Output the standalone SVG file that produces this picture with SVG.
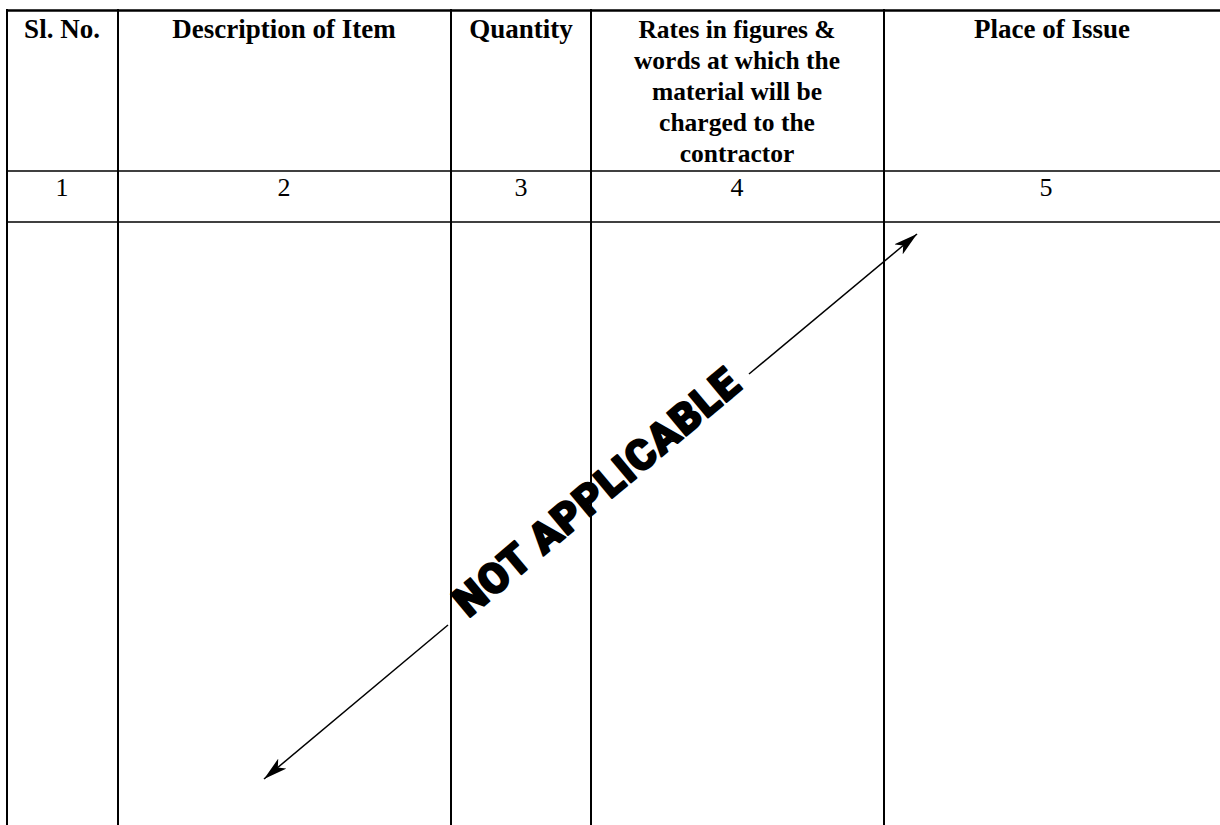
<svg xmlns="http://www.w3.org/2000/svg" width="1220" height="825" viewBox="0 0 1220 825">
<style>
.hd{font-family:"Liberation Serif","Times New Roman",serif;font-weight:bold;font-size:27px;fill:#000;text-anchor:middle}
.hd4{font-family:"Liberation Serif","Times New Roman",serif;font-weight:bold;font-size:25.5px;fill:#000;text-anchor:middle}
.num{font-family:"Liberation Serif","Times New Roman",serif;font-size:26px;fill:#000;text-anchor:middle}
.v{stroke:#000;stroke-width:2}
.h{stroke:#000;stroke-width:1.5}
.na{font-family:"Roboto","Liberation Sans",sans-serif;font-weight:900;font-size:42px;fill:#000;stroke:#000;stroke-width:2;stroke-linejoin:round;text-anchor:middle}
.arr{stroke:#000;stroke-width:1.5;fill:none;marker-end:url(#ah)}
</style>
<defs>
<marker id="ah" markerWidth="26" markerHeight="14" viewBox="-24 -7 26 14" refX="0" refY="0" orient="auto" markerUnits="userSpaceOnUse">
<path d="M0,0 L-24,-6.5 L-18,0 L-24,6.5 Z" fill="#000"/>
</marker>
</defs>
<rect width="1220" height="825" fill="#fff"/>
<g id="grid">
<line class="h" x1="6" y1="10.5" x2="1220" y2="10.5" style="stroke-width:2.5"/>
<line class="h" x1="6" y1="171" x2="1220" y2="171"/>
<line class="h" x1="6" y1="222" x2="1220" y2="222"/>
<line class="v" x1="7" y1="9" x2="7" y2="825"/>
<line class="v" x1="118" y1="9" x2="118" y2="825"/>
<line class="v" x1="451" y1="9" x2="451" y2="825"/>
<line class="v" x1="591" y1="9" x2="591" y2="825"/>
<line class="v" x1="884" y1="9" x2="884" y2="825"/>
</g>
<g id="header">
<text class="hd" x="62" y="38">Sl. No.</text>
<text class="hd" x="284" y="38">Description of Item</text>
<text class="hd" x="521" y="38">Quantity</text>
<text class="hd4" x="737" y="38">Rates in figures &amp;</text>
<text class="hd4" x="737" y="69">words at which the</text>
<text class="hd4" x="737" y="100">material will be</text>
<text class="hd4" x="737" y="131">charged to the</text>
<text class="hd4" x="737" y="162">contractor</text>
<text class="hd" x="1052" y="38">Place of Issue</text>
</g>
<g id="numbers">
<text class="num" x="62" y="196">1</text>
<text class="num" x="284" y="196">2</text>
<text class="num" x="521" y="196">3</text>
<text class="num" x="737" y="196">4</text>
<text class="num" x="1046" y="196">5</text>
</g>
<g id="connectors">
<line class="arr" x1="749" y1="374" x2="917" y2="234"/>
<line class="arr" x1="448" y1="625" x2="264" y2="779"/>
</g>
<g id="stamp">
<text class="na" x="596" y="507" transform="rotate(-40 596 492)" textLength="358" lengthAdjust="spacing">NOT APPLICABLE</text>
</g>
</svg>
